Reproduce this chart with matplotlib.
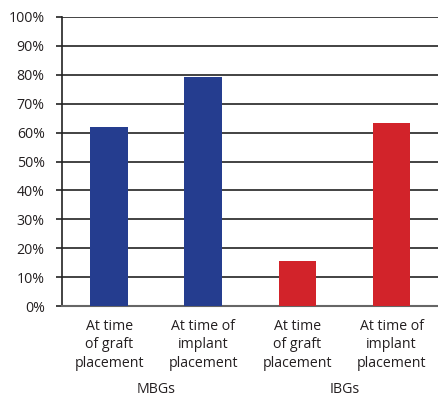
import matplotlib
matplotlib.use('Agg')
import matplotlib.pyplot as plt
from matplotlib.ticker import FuncFormatter

plt.rcParams['font.family'] = ['Open Sans', 'DejaVu Sans']

# data (percent)
categories = ['At time\nof graft\nplacement', 'At time of\nimplant\nplacement',
              'At time\nof graft\nplacement', 'At time of\nimplant\nplacement']
values = [62, 79.2, 15.5, 63.3]
groups = ['MBGs', 'IBGs']
colors = ['#253d8f', '#253d8f', '#d2232a', '#d2232a']

fig = plt.figure(figsize=(4.39, 3.97), dpi=100)
ax = fig.add_axes([62/439, 1 - 306/397, 1 - 62/439 + 0.01, (306 - 17)/397])

x = range(len(values))
ax.set_axisbelow(True)
ax.grid(axis='y', color='#222222', linewidth=1.2)
ax.bar(x, values, width=0.4, color=colors, zorder=3)

ax.set_ylim(0, 100)
ax.set_xlim(-0.5, 3.55)
ax.set_yticks(range(0, 101, 10))
ax.yaxis.set_major_formatter(FuncFormatter(lambda v, p: f'{v:.0f}%'))

for s in ['top', 'right']:
    ax.spines[s].set_visible(False)
ax.spines['left'].set_color('#222222')
ax.spines['left'].set_linewidth(1.2)
ax.spines['bottom'].set_color('#666666')
ax.spines['bottom'].set_linewidth(1.5)

ax.tick_params(axis='y', length=4.5, width=1.2, color='#222222', pad=8, labelsize=10.2, labelcolor='#231f20')
ax.set_xticks(list(x))
ax.set_xticklabels(categories, fontsize=10.2, linespacing=1.35, color='#231f20')
ax.tick_params(axis='x', length=0, pad=9)

# group labels under the category labels
for i, g in enumerate(groups):
    ax.text(2 * i + 0.5, -0.262, g, transform=ax.get_xaxis_transform(),
            ha='center', va='top', fontsize=10.2, color='#231f20')

fig.savefig('out.png', dpi=100)
